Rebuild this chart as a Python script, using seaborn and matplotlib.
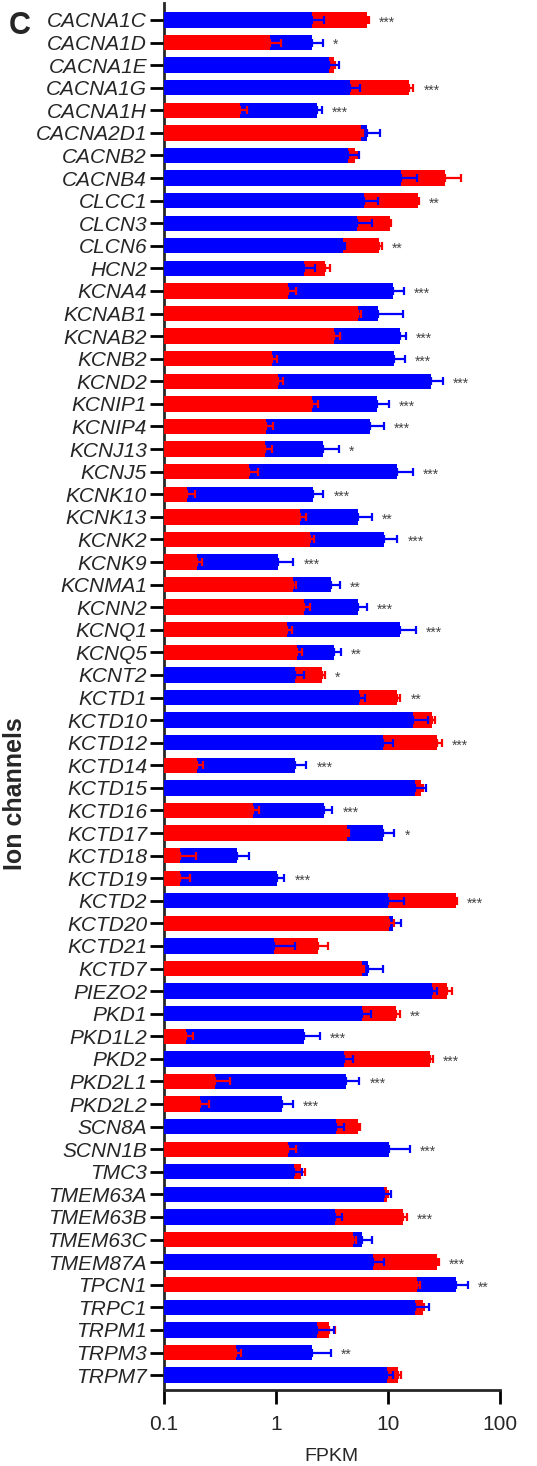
import numpy as np
import pandas as pd
import matplotlib
matplotlib.use("Agg")
import matplotlib.pyplot as plt
import seaborn as sns

genes = ["CACNA1C", "CACNA1D", "CACNA1E", "CACNA1G", "CACNA1H", "CACNA2D1", "CACNB2", "CACNB4",
         "CLCC1", "CLCN3", "CLCN6", "HCN2", "KCNA4", "KCNAB1", "KCNAB2", "KCNB2", "KCND2",
         "KCNIP1", "KCNIP4", "KCNJ13", "KCNJ5", "KCNK10", "KCNK13", "KCNK2", "KCNK9", "KCNMA1",
         "KCNN2", "KCNQ1", "KCNQ5", "KCNT2", "KCTD1", "KCTD10", "KCTD12", "KCTD14", "KCTD15",
         "KCTD16", "KCTD17", "KCTD18", "KCTD19", "KCTD2", "KCTD20", "KCTD21", "KCTD7", "PIEZO2",
         "PKD1", "PKD1L2", "PKD2", "PKD2L1", "PKD2L2", "SCN8A", "SCNN1B", "TMC3", "TMEM63A",
         "TMEM63B", "TMEM63C", "TMEM87A", "TPCN1", "TRPC1", "TRPM1", "TRPM3", "TRPM7"]

red_vals = [6.49, 0.88, 3.32, 15.4, 0.484, 5.78, 5.11, 32.5, 18.4, 10.35, 8.37, 2.77, 1.28, 5.43,
            3.32, 0.934, 1.056, 2.12, 0.82, 0.80, 0.582, 0.16, 1.65, 2.03, 0.20, 1.41, 1.77, 1.27,
            1.56, 2.57, 12.0, 24.7, 27.4, 0.20, 19.85, 0.623, 4.30, 0.14, 0.14, 40.2, 10.3, 2.40,
            5.86, 33.6, 11.8, 0.157, 23.9, 0.287, 0.211, 5.40, 1.28, 1.67, 9.8, 13.6, 4.87, 27.4,
            18.2, 20.5, 3.01, 0.443, 12.3]
red_err = [0.27, 0.23, 0.08, 1.5, 0.067, 0.2, 0.2, 12.4, 0.5, 0.3, 0.5, 0.28, 0.24, 0.35,
           0.43, 0.1, 0.1, 0.28, 0.12, 0.12, 0.11, 0.03, 0.22, 0.17, 0.02, 0.11, 0.23, 0.13,
           0.15, 0.18, 0.9, 1.4, 2.9, 0.026, 0.6, 0.08, 0.24, 0.053, 0.03, 1.1, 1.1, 0.55,
           0.2, 3.7, 0.9, 0.027, 1.1, 0.1, 0.04, 0.28, 0.24, 0.16, 0.3, 1.2, 0.3, 1.1,
           1.0, 0.6, 0.37, 0.05, 0.9]
blue_vals = [2.12, 2.10, 3.01, 4.61, 2.32, 6.49, 4.39, 13.15, 6.15, 5.28, 3.96, 1.79, 11.08, 8.2,
             12.9, 11.24, 24.4, 8.03, 6.95, 2.66, 12.0, 2.14, 5.40, 9.27, 1.056, 3.10, 5.40, 12.7,
             3.32, 1.49, 5.47, 16.7, 8.96, 1.49, 17.3, 2.70, 9.02, 0.449, 1.02, 9.93, 11.2, 0.973,
             6.58, 24.7, 5.86, 1.79, 4.10, 4.22, 1.147, 3.43, 10.14, 1.46, 9.27, 3.34, 5.86, 7.35,
             40.2, 17.3, 2.32, 2.10, 9.8]
blue_err = [0.55, 0.53, 0.67, 1.05, 0.24, 2.05, 1.08, 5.0, 2.0, 1.9, 0.2, 0.45, 2.9, 5.3,
            1.5, 3.0, 6.6, 2.1, 2.2, 1.0, 4.7, 0.52, 1.8, 2.9, 0.38, 0.65, 1.1, 5.2,
            0.48, 0.3, 0.8, 5.9, 2.1, 0.38, 4.5, 0.5, 2.4, 0.13, 0.17, 3.9, 1.9, 0.52,
            2.4, 2.7, 1.2, 0.7, 0.74, 1.36, 0.27, 0.6, 5.5, 0.25, 1.45, 0.54, 1.4, 1.8,
            11.2, 5.8, 1.0, 1.0, 1.4]
signif = ["***", "*", "", "***", "***", "", "", "", "**", "", "**", "", "***", "",
          "***", "***", "***", "***", "***", "*", "***", "***", "**", "***", "***", "**", "***", "***",
          "**", "*", "**", "", "***", "***", "", "***", "*", "", "***", "***", "", "",
          "", "", "**", "***", "***", "***", "***", "", "***", "", "", "***", "", "***",
          "**", "", "", "**", ""]

RED = "#FF0000"
BLUE = "#0000FF"

sns.set_style("ticks")
plt.rcParams["font.family"] = ["Liberation Sans", "DejaVu Sans"]

red = np.array(red_vals)
blue = np.array(blue_vals)
rerr = np.array(red_err)
berr = np.array(blue_err)

red_back = red >= blue
back = pd.DataFrame({
    "gene": genes,
    "value": np.where(red_back, red, blue),
    "err": np.where(red_back, rerr, berr),
    "color": np.where(red_back, "red", "blue"),
})
front = pd.DataFrame({
    "gene": genes,
    "value": np.where(red_back, blue, red),
    "err": np.where(red_back, berr, rerr),
    "color": np.where(red_back, "blue", "red"),
})
pal = {"red": RED, "blue": BLUE}

fig = plt.figure(figsize=(5.37, 14.66), dpi=100)
ax = fig.add_axes([163.7 / 537, 1 - 1390 / 1466, 336.3 / 537, 1387 / 1466])

pos = np.arange(len(genes))


def draw_layer(df, z):
    sns.barplot(data=df, x="value", y="gene", hue="color", palette=pal, order=genes,
                hue_order=["red", "blue"], dodge=False, width=0.68, errorbar=None,
                saturation=1, linewidth=0, legend=False, ax=ax, zorder=z)
    for cname, ccol in pal.items():
        m = (df["color"] == cname).to_numpy()
        vals = df["value"].to_numpy()[m]
        errs = df["err"].to_numpy()[m]
        ax.errorbar(vals, pos[m], xerr=[np.zeros_like(errs), errs], fmt="none",
                    ecolor=ccol, elinewidth=1.6, capsize=3.2, capthick=1.6, zorder=z + 0.5)


draw_layer(back, 2)
draw_layer(front, 3)

ax.set_xscale("log")
ax.set_xlim(0.1, 100)
ax.set_ylim(len(genes) - 1 + 0.66, -0.75)
ax.set_xticks([0.1, 1, 10, 100])
ax.set_xticklabels(["0.1", "1", "10", "100"])
ax.xaxis.set_minor_locator(matplotlib.ticker.NullLocator())

# significance stars
tops = np.maximum(red + rerr, blue + berr)
for i, s in enumerate(signif):
    if s:
        ax.text(tops[i] * 1.23, i + 0.12, s, ha="left", va="center", fontsize=10,
                color="#444444")

for sp in ["top", "right"]:
    ax.spines[sp].set_visible(False)
for sp in ["left", "bottom"]:
    ax.spines[sp].set_linewidth(2)
ax.tick_params(axis="both", which="major", length=10, width=2, color="black")
ax.tick_params(axis="y", pad=2, labelsize=15)
ax.tick_params(axis="x", pad=8, labelsize=15)
for lab in ax.get_yticklabels():
    lab.set_fontstyle("italic")

ax.set_xlabel("FPKM", fontsize=14, labelpad=10)
ax.set_ylabel("Ion channels", fontsize=18, fontweight="bold")
ax.yaxis.set_label_coords(-0.406, 0.43)

fig.text(20 / 537, 1 - 26 / 1466, "C", fontsize=22, fontweight="bold", ha="center", va="center")

fig.savefig("out.png", dpi=100)
